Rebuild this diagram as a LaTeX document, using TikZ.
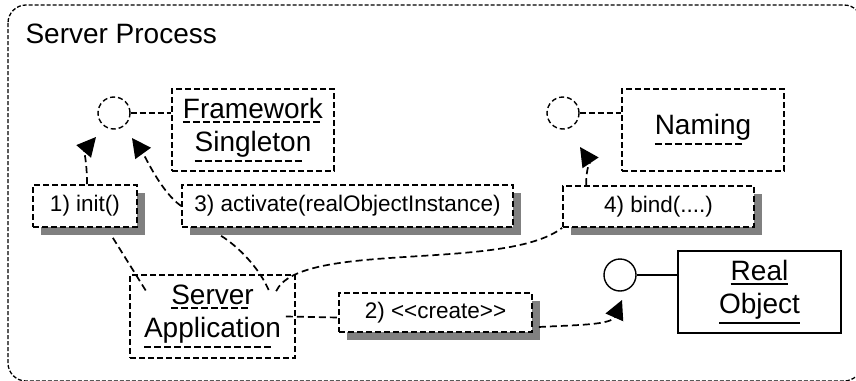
\documentclass[tikz,border=0pt]{standalone}
\usepackage{fontspec}
\setmainfont{Liberation Sans}
\usetikzlibrary{arrows.meta,calc,shadows}

% underlined object names: dashed and solid variants
\newcommand\dashul[1]{\setbox0=\hbox{#1}\vtop{\copy0\nointerlineskip\kern2.5pt\hbox to\wd0{\leaders\hbox to 10pt{\vrule width 7pt height 2.2pt depth 0pt\hss}\hfill}}}
\newcommand\solidul[1]{\setbox0=\hbox{#1}\vtop{\copy0\nointerlineskip\kern2.5pt\hrule height 2pt width \wd0}}

\begin{document}
\begin{tikzpicture}[x=1pt,y=-1pt,
  frame/.style={rounded corners=18pt, dash pattern=on 4pt off 2pt, line width=1.3pt},
  classbox/.style={draw, dash pattern=on 6pt off 3pt, line width=1.7pt, fill=white,
    font=\fontsize{28}{33}\selectfont, align=center, inner sep=0pt},
  objbox/.style={classbox, solid},
  msgbox/.style={draw, dash pattern=on 6pt off 3pt, line width=1.7pt, fill=white,
    font=\fontsize{22.5}{26}\selectfont, inner sep=0pt,
    drop shadow={shadow xshift=8pt, shadow yshift=-8pt, fill=black!50, opacity=1, draw=none}},
  iface/.style={circle, draw, dash pattern=on 5pt off 3pt, line width=1.4pt,
    minimum size=32pt, inner sep=0pt, fill=white},
  link/.style={dash pattern=on 6pt off 3pt, line width=1.5pt},
  conn/.style={dash pattern=on 7pt off 4pt, line width=1.7pt},
  arr/.style={conn, -{Triangle[length=19pt,width=19pt]}}]

\useasboundingbox (0,0) rectangle (856,380);
\begin{scope}
  \clip (0,0) rectangle (856,380);
  \draw[frame] (8,5) rectangle (862,381);
\end{scope}

\node[anchor=base west, font=\fontsize{28}{33}\selectfont] (title) at (22,43) {Server Process};

% framework singleton with its interface
\node[classbox, minimum width=162pt, minimum height=82pt] (fw) at (253,130)
  {\dashul{Framework}\\\dashul{Singleton}};
\node[iface] (fwc) at (114,113) {};
\draw[link] (fwc.east) -- (fwc.east -| fw.west);

% naming service with its interface
\node[classbox, minimum width=162pt, minimum height=82pt] (nm) at (703,130)
  {\dashul{Naming}};
\node[iface] (nmc) at (563,113) {};
\draw[link] (nmc.east) -- (nmc.east -| nm.west);

% real object with its interface
\node[objbox, minimum width=163pt, minimum height=82pt] (ro) at (759.5,292)
  {\solidul{Real}\\\solidul{Object}};
\node[iface, solid] (roc) at (620,275) {};
\draw[line width=1.5pt] (roc.east) -- (roc.east -| ro.west);

% server application
\node[classbox, minimum width=165pt, minimum height=83pt] (app) at (212.5,316.5)
  {\dashul{Server}\\\dashul{Application}};

% messages
\node[msgbox, minimum width=104pt, minimum height=42pt] (m1) at (85,206) {1) init()};
\node[msgbox, minimum width=331pt, minimum height=42pt] (m3) at (347.5,206) {3) activate(realObjectInstance)};
\node[msgbox, minimum width=191pt, minimum height=41pt] (m4) at (658.5,206.5) {4) bind(....)};
\node[msgbox, minimum width=193pt, minimum height=39pt] (m2) at (435.5,312.5)
  {2) \hbox{<}\hbox{<}create\hbox{>}\hbox{>}};

% arrow tip targets next to the interfaces
\coordinate (t1) at ($(fwc)+(-18,24)$);
\coordinate (t3) at ($(fwc)+(18,25)$);
\coordinate (t4) at ($(nmc)+(17,34)$);
\coordinate (t2) at ($(roc)+(2,25)$);

% 1) init()
\draw[arr] ($(m1.north)+(2,0)$) .. controls ($(m1.north)+(2,-22)$) and ($(t1)+(-12,14)$) .. (t1);
\draw[conn] ($(m1.south east)+(-25,10)$) -- ($(app.north west)+(17,17)$);

% 3) activate
\draw[arr] (m3.west) .. controls ($(m3.west)+(-20,-14)$) and ($(t3)+(13,18)$) .. (t3);
\draw[conn] ($(m3.south west)+(40,8)$) .. controls ($(m3.south west)+(56,18)$) and ($(app.north west)+(130,-7)$) .. ($(app.north west)+(140,17)$);

% 4) bind
\draw[arr] ($(m4.north west)+(24,0)$) .. controls ($(m4.north west)+(24,-18)$) and ($(t4)+(10,15)$) .. (t4);
\draw[conn] ($(app.north west)+(147,17)$) .. controls (300,240) and (505,272) .. (m4.south west);

% 2) create
\draw[conn] ($(app.east)+(-10,0)$) -- ($(m2.west)+(0,5)$);
\draw[arr] ($(m2.east)+(6,14.5)$) .. controls ($(m2.east)+(43,12.5)$) and ($(t2)+(-11,25)$) .. (t2);

\end{tikzpicture}
\end{document}
